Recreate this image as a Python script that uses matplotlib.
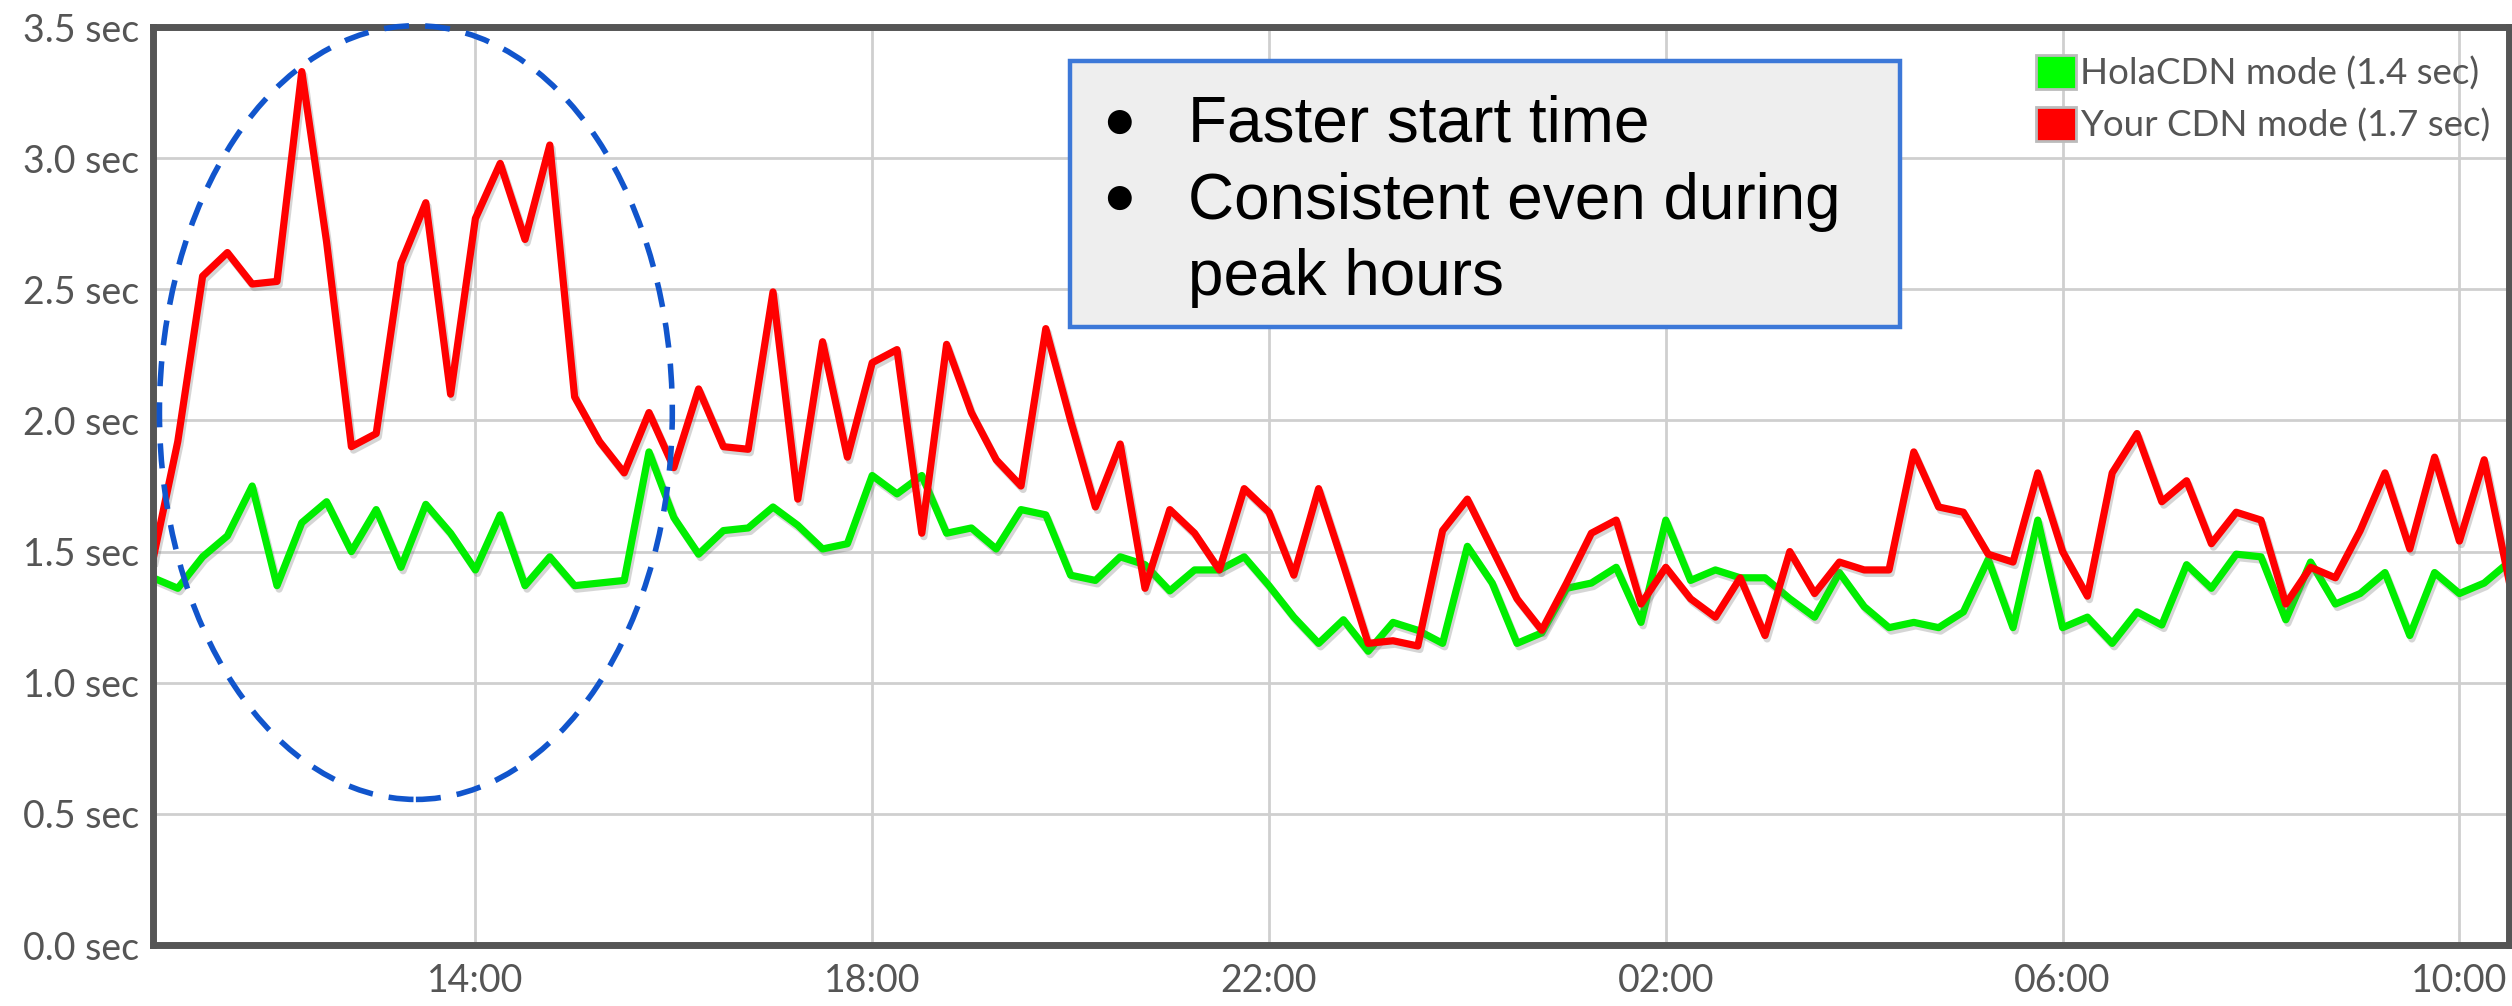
import pandas as pd
import matplotlib
matplotlib.use('Agg')
import matplotlib.pyplot as plt
import matplotlib.dates as mdates
import matplotlib.patheffects as pe
from matplotlib.patches import Ellipse, Rectangle, Patch

# Data: one sample every 15 minutes, starting 10:45
start_time = '2016-01-01 10:45'

hola_cdn = [1.40, 1.36, 1.48, 1.56, 1.75, 1.37, 1.61, 1.69, 1.50, 1.66,
            1.44, 1.68, 1.57, 1.43, 1.64, 1.37, 1.48, 1.37, 1.38, 1.39,
            1.88, 1.63, 1.49, 1.58, 1.59, 1.67, 1.60, 1.51, 1.53, 1.79,
            1.72, 1.79, 1.57, 1.59, 1.51, 1.66, 1.64, 1.41, 1.39, 1.48,
            1.45, 1.35, 1.43, 1.43, 1.48, 1.37, 1.25, 1.15, 1.24, 1.12,
            1.23, 1.20, 1.15, 1.52, 1.38, 1.15, 1.19, 1.36, 1.38, 1.44,
            1.23, 1.62, 1.39, 1.43, 1.40, 1.40, 1.32, 1.25, 1.42, 1.29,
            1.21, 1.23, 1.21, 1.27, 1.47, 1.21, 1.62, 1.21, 1.25, 1.15,
            1.27, 1.22, 1.45, 1.36, 1.49, 1.48, 1.24, 1.46, 1.30, 1.34,
            1.42, 1.18, 1.42, 1.34, 1.38, 1.46]

your_cdn = [1.47, 1.92, 2.55, 2.64, 2.52, 2.53, 3.33, 2.68, 1.90, 1.95,
            2.60, 2.83, 2.10, 2.77, 2.98, 2.69, 3.05, 2.09, 1.92, 1.80,
            2.03, 1.82, 2.12, 1.90, 1.89, 2.49, 1.70, 2.30, 1.86, 2.22,
            2.27, 1.57, 2.29, 2.03, 1.85, 1.75, 2.35, 2.00, 1.67, 1.91,
            1.36, 1.66, 1.57, 1.43, 1.74, 1.65, 1.41, 1.74, 1.45, 1.15,
            1.16, 1.14, 1.58, 1.70, 1.51, 1.32, 1.20, 1.38, 1.57, 1.62,
            1.30, 1.44, 1.32, 1.25, 1.40, 1.18, 1.50, 1.34, 1.46, 1.43,
            1.43, 1.88, 1.67, 1.65, 1.49, 1.46, 1.80, 1.50, 1.33, 1.80,
            1.95, 1.69, 1.77, 1.53, 1.65, 1.62, 1.30, 1.44, 1.40, 1.58,
            1.80, 1.51, 1.86, 1.54, 1.85, 1.39]

legend_labels = ['HolaCDN mode (1.4 sec)', 'Your CDN mode (1.7 sec)']
y_ticks = [0.0, 0.5, 1.0, 1.5, 2.0, 2.5, 3.0, 3.5]
x_tick_hours = [2, 6, 10, 14, 18, 22]
bullet_lines = ['Faster start time', 'Consistent even during', 'peak hours']

times = pd.date_range(start_time, periods=len(hola_cdn), freq='15min')

W, H = 2512, 1006
fig = plt.figure(figsize=(W / 100, H / 100), dpi=100)
ax = fig.add_axes([153 / W, 1 - 945 / H, (2509 - 153) / W, (945 - 27) / H])

shadow = [pe.SimpleLineShadow(offset=(1.5, -2.5), shadow_color='#777777', alpha=0.3), pe.Normal()]
ax.plot(times, hola_cdn, color='#00ee00', lw=5.2, path_effects=shadow, zorder=3)
ax.plot(times, your_cdn, color='#ff0000', lw=5.2, path_effects=shadow, zorder=4)

ax.set_xlim(times[0], times[-1])
ax.set_ylim(0, 3.5)
ax.set_yticks(y_ticks)
ax.set_yticklabels([f'{v:.1f} sec' for v in y_ticks])
ax.xaxis.set_major_locator(mdates.HourLocator(byhour=x_tick_hours))
ax.xaxis.set_major_formatter(mdates.DateFormatter('%H:%M'))
ax.tick_params(axis='both', length=0, labelsize=27, labelcolor='#555555')
ax.tick_params(axis='y', pad=10)
ax.tick_params(axis='x', pad=13)
for lab in ax.get_xticklabels() + ax.get_yticklabels():
    lab.set_family('Lato')

ax.grid(color='#cfcfcf', lw=2)
ax.set_axisbelow(True)
for s in ax.spines.values():
    s.set_color('#555555')
    s.set_linewidth(5)
    s.set_zorder(6)

# dashed ellipse around the peak hours
center = mdates.date2num(pd.Timestamp('2016-01-01 13:24'))
ell = Ellipse((center, 2.03), width=5.17 / 24, height=2.95, fill=False,
              edgecolor='#1155cc', lw=4, linestyle=(0, (4.5, 2.9)),
              clip_on=False, zorder=7)
ax.add_patch(ell)

# legend
handles = [Patch(facecolor='#00ff00', edgecolor='#bbbbbb', lw=2),
           Patch(facecolor='#ff0000', edgecolor='#bbbbbb', lw=2)]
leg = ax.legend(handles, legend_labels, loc='upper right',
                bbox_to_anchor=(2490 / W, 1 - 55 / H), bbox_transform=fig.transFigure,
                frameon=False, prop={'family': 'Lato', 'size': 26.5},
                handlelength=1.1, handleheight=1.05, handletextpad=0.1,
                labelspacing=0.45, borderpad=0, borderaxespad=0)
for t in leg.get_texts():
    t.set_color('#555555')

# callout box
box = Rectangle((1070 / W, 1 - 327 / H), 830 / W, 266 / H, transform=fig.transFigure,
                facecolor='#eeeeee', edgecolor='#3c78d8', lw=3.2, zorder=10)
fig.add_artist(box)
baselines = [142, 219, 295]
for txt, yb in zip(bullet_lines, baselines):
    fig.text(1188 / W, 1 - yb / H, txt, fontsize=46, family='Liberation Sans',
             va='baseline', ha='left', color='black', zorder=11)
for yc in [124, 200]:
    fig.text(1119 / W, 1 - yc / H, '\u25cf', fontsize=40,
             family=['Liberation Sans', 'DejaVu Sans'],
             va='center', ha='center', color='black', zorder=11)

fig.savefig('out.png', dpi=100)
